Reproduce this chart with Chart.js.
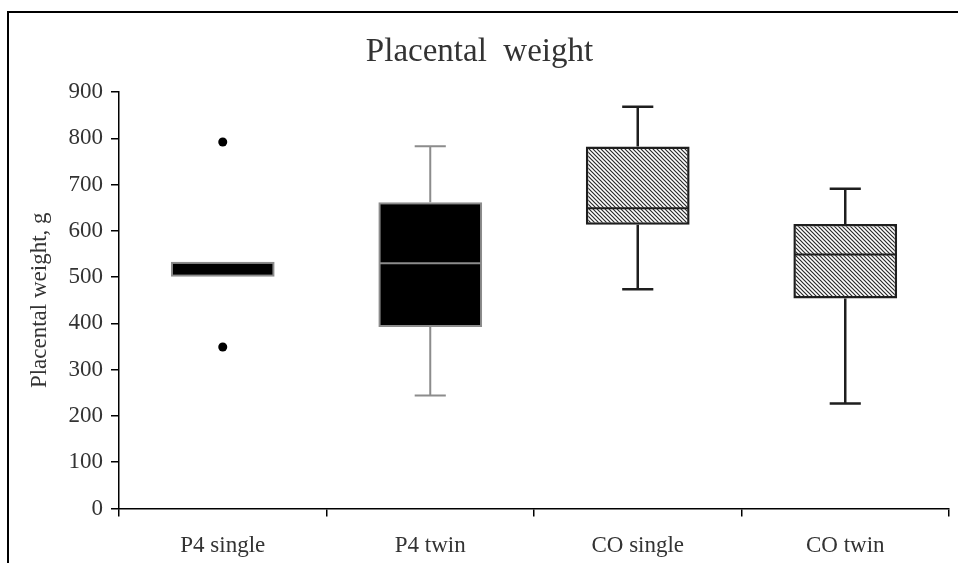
<!DOCTYPE html>
<html lang="en">
<head>
<title>Placental weight</title>
<script src="https://cdn.jsdelivr.net/npm/chart.js@4.4.0/dist/chart.umd.min.js"></script>
<style>
body { margin: 0; background: #fff; }
#wrap { position: relative; width: 958px; height: 563px; overflow: hidden; }
#frame { position: absolute; left: 7px; top: 11px; width: 1200px; height: 1200px; border-left: 2px solid #000; border-top: 2px solid #000; }
#myChart { position: absolute; left: 0; top: 0; }
</style>
</head>
<body>

<div id="wrap">
  <div id="frame"></div>
  <canvas id="myChart" width="958" height="563"></canvas>
</div>

<script>
// box plot values (g)
var categories = ['P4 single', 'P4 twin', 'CO single', 'CO twin'];
var whiskerLow  = [501, 244, 474, 227];
var quartile1   = [501, 392, 613, 454];
var medians     = [501, 530, 649, 549];
var quartile3   = [533, 662, 782, 615];
var whiskerHigh = [533, 783, 868, 691];

var outlierGroup  = ['P4 single', 'P4 single'];
var outlierValues = [792, 349];

var yMin = 0, yMax = 900, yStep = 100;

var lineColors = ['#8c8c8c', '#8c8c8c', '#1e1e1e', '#1e1e1e'];
var serif = 'Liberation Serif, Times New Roman, serif';

var ctx = document.getElementById('myChart').getContext('2d');

// diagonal hatch for the CO boxes
function hatch() {
    var c = document.createElement('canvas');
    c.width = 4; c.height = 4;
    var g = c.getContext('2d');
    g.fillStyle = '#fff';
    g.fillRect(0, 0, 4, 4);
    g.strokeStyle = '#2a2a2a';
    g.lineWidth = 1.2;
    g.beginPath();
    g.moveTo(-1, -1); g.lineTo(5, 5);
    g.moveTo(-1, 3);  g.lineTo(1, 5);
    g.moveTo(3, -1);  g.lineTo(5, 1);
    g.stroke();
    return ctx.createPattern(c, 'repeat');
}
var stripes = hatch();

// whiskers, caps and medians
var boxExtras = {
    id: 'boxExtras',
    afterDatasetsDraw: function(chart) {
        var xs = chart.scales.x, ys = chart.scales.y, c = chart.ctx;
        var step = xs.getPixelForValue(1) - xs.getPixelForValue(0);
        var cap = step * 0.075, half = step * 0.25;
        c.save();
        c.lineCap = 'butt';
        for (var i = 0; i < categories.length; i++) {
            var x = xs.getPixelForValue(i);
            c.strokeStyle = lineColors[i];
            c.lineWidth = i < 2 ? 2 : 2.5;
            c.beginPath();
            if (whiskerHigh[i] > quartile3[i]) {
                c.moveTo(x, ys.getPixelForValue(quartile3[i]));
                c.lineTo(x, ys.getPixelForValue(whiskerHigh[i]));
                c.moveTo(x - cap, ys.getPixelForValue(whiskerHigh[i]));
                c.lineTo(x + cap, ys.getPixelForValue(whiskerHigh[i]));
            }
            if (whiskerLow[i] < quartile1[i]) {
                c.moveTo(x, ys.getPixelForValue(quartile1[i]));
                c.lineTo(x, ys.getPixelForValue(whiskerLow[i]));
                c.moveTo(x - cap, ys.getPixelForValue(whiskerLow[i]));
                c.lineTo(x + cap, ys.getPixelForValue(whiskerLow[i]));
            }
            c.stroke();
            if (medians[i] > quartile1[i]) {
                c.lineWidth = 2;
                c.beginPath();
                c.moveTo(x - half + 1, ys.getPixelForValue(medians[i]));
                c.lineTo(x + half - 1, ys.getPixelForValue(medians[i]));
                c.stroke();
            }
        }
        c.restore();
    }
};

var tickFont = { family: serif, size: 23 };

new Chart(ctx, {
    type: 'bar',
    data: {
        labels: categories,
        datasets: [{
            label: 'box',
            data: categories.map(function(c, i) { return [quartile1[i], quartile3[i]]; }),
            backgroundColor: ['#000', '#000', stripes, stripes],
            borderColor: lineColors,
            borderWidth: [2, 2, 2.5, 2.5],
            borderSkipped: false,
            categoryPercentage: 0.5,
            barPercentage: 1
        }, {
            type: 'line',
            label: 'outliers',
            data: outlierValues.map(function(v, i) { return { x: outlierGroup[i], y: v }; }),
            showLine: false,
            pointRadius: 4.5,
            pointBackgroundColor: '#000',
            pointBorderColor: '#000',
            pointBorderWidth: 0
        }]
    },
    options: {
        responsive: false,
        animation: false,
        layout: { padding: { left: 10, right: 9, top: 0, bottom: 0 } },
        plugins: {
            legend: { display: false },
            tooltip: { enabled: false },
            title: {
                display: true,
                text: 'Placental  weight',
                color: '#333',
                font: { family: serif, size: 33, weight: 'normal' },
                padding: { top: 33, bottom: 19.4 }
            }
        },
        scales: {
            x: {
                offset: true,
                grid: { display: true, offset: true, drawOnChartArea: false, tickLength: 8, color: '#000', lineWidth: 1.5 },
                border: { display: true, color: '#000', width: 1.5 },
                ticks: { color: '#333', font: tickFont, padding: 16 },
                afterFit: function(s) { s.height = 54.5; }
            },
            y: {
                min: yMin,
                max: yMax,
                ticks: { stepSize: yStep, color: '#333', font: tickFont, padding: 8 },
                grid: { display: true, drawOnChartArea: false, tickLength: 8, color: '#000', lineWidth: 1.5 },
                border: { display: true, color: '#000', width: 1.5 },
                title: {
                    display: true,
                    text: 'Placental weight, g',
                    color: '#333',
                    font: { family: serif, size: 23 },
                    padding: { top: 16, bottom: 0 }
                },
                afterFit: function(s) { s.width = 109; }
            }
        }
    },
    plugins: [boxExtras]
});
</script>

</body>
</html>
